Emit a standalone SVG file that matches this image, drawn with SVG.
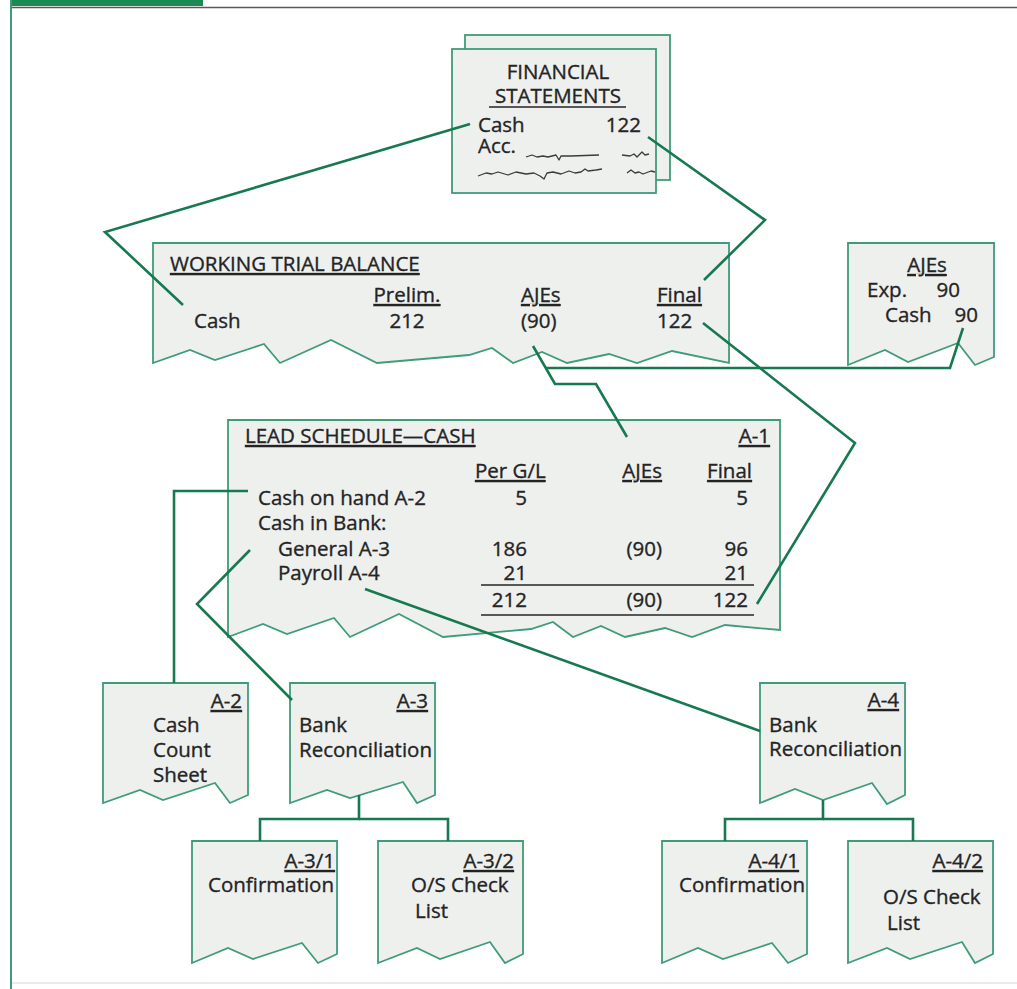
<svg xmlns="http://www.w3.org/2000/svg" width="1017" height="989" viewBox="0 0 1017 989">
<style>
.bg{fill:#ffffff}
.box{fill:#eef0ee;stroke:#3f9c79;stroke-width:1.8;stroke-linejoin:miter}
.conn{fill:none;stroke:#17794f;stroke-width:2.6;stroke-linejoin:miter}
.sq{fill:none;stroke:#3a3a3a;stroke-width:1.3;stroke-linejoin:round}
.t{font-family:"Open Sans","Noto Sans",sans-serif;font-size:20.5px;font-weight:500;fill:#242424;stroke:#242424;stroke-width:0.35}
.u{text-decoration:underline}
.r{text-anchor:end}
.m{text-anchor:middle}
.rule{stroke:#242424;stroke-width:1.4}
</style>
<rect class="bg" x="0" y="0" width="1017" height="989"/>
<g id="frame">
<line x1="12" y1="7.5" x2="1017" y2="7.5" stroke="#5e5656" stroke-width="1.6"/>
<rect x="10" y="0" width="193" height="6" fill="#1d8a56"/>
<line x1="11" y1="0" x2="11" y2="989" stroke="#3f9c79" stroke-width="2"/>
<line x1="12" y1="983" x2="1017" y2="983" stroke="#e2e4e3" stroke-width="1.5"/>
</g>

<g id="financial-statements">
<rect class="box" x="465" y="35" width="205" height="145"/>
<rect class="box" x="452" y="49" width="204" height="144"/>
<text class="t m" x="558" y="79">FINANCIAL</text>
<text class="t m" x="558" y="103">STATEMENTS</text>
<line class="rule" x1="489" y1="107" x2="626" y2="107"/>
<text class="t" x="478" y="132">Cash</text>
<text class="t r" x="641" y="132">122</text>
<text class="t" x="478" y="153">Acc.</text>
<path class="sq" d="M526,157 l6,-2 l5,2 l6,-1 l5,1 l8,-2 l3,5 l2,-4 l10,0 l28,-1"/>
<path class="sq" d="M622,155 l8,1 l4,-2 l3,3 l5,-5 l3,3 l4,-1"/>
<path class="sq" d="M478,176 l8,-3 l6,1 l6,-2 l10,3 l8,-3 l10,2 l8,-1 l6,3 l4,3 l3,-6 l6,-1 l8,2 l8,-3 l6,2 l6,-1 l4,-3 l3,2 l8,-1 l6,-1"/>
<path class="sq" d="M627,173 l4,-3 l4,3 l4,-1 l4,2 l8,-3 l4,1"/>
</g>

<g id="working-trial-balance">
<path class="box" d="M153,243 H729 V363 L672,351 L637,363 L609,354 L567,363 L542,352 L513,363 L492,348 L469,355 L377,363 L331,340 L280,363 L264,344 L215,360 L190,350 L153,363 Z"/>
<text class="t u" x="170" y="271">WORKING TRIAL BALANCE</text>
<text class="t u m" x="407" y="302">Prelim.</text>
<text class="t u" x="521" y="302">AJEs</text>
<text class="t u" x="657" y="302">Final</text>
<text class="t" x="194" y="328">Cash</text>
<text class="t m" x="407" y="328">212</text>
<text class="t" x="521" y="328">(90)</text>
<text class="t" x="657" y="328">122</text>
</g>

<g id="ajes">
<path class="box" d="M848,243 H994 V357 L975,365 L958,343 L908,362 L885,350 L848,365 Z"/>
<text class="t u m" x="927" y="272">AJEs</text>
<text class="t" x="867" y="297">Exp.</text>
<text class="t r" x="960" y="297">90</text>
<text class="t" x="885" y="322">Cash</text>
<text class="t r" x="978" y="322">90</text>
</g>

<g id="lead-schedule">
<path class="box" d="M228,420 H780 V630 L725,625 L692,637 L665,628 L625,637 L601,626 L573,637 L553,622 L531,629 L443,637 L399,614 L350,637 L334,618 L287,634 L263,624 L228,637 Z"/>
<text class="t u" x="245" y="443">LEAD SCHEDULE—CASH</text>
<text class="t u r" x="770" y="443">A-1</text>
<text class="t u" x="475" y="478">Per G/L</text>
<text class="t u r" x="662" y="478">AJEs</text>
<text class="t u r" x="752" y="478">Final</text>
<text class="t" x="258" y="505">Cash on hand A-2</text>
<text class="t r" x="527" y="505">5</text>
<text class="t r" x="748" y="505">5</text>
<text class="t" x="258" y="530">Cash in Bank:</text>
<text class="t" x="278" y="556">General A-3</text>
<text class="t r" x="527" y="556">186</text>
<text class="t r" x="662" y="556">(90)</text>
<text class="t r" x="748" y="556">96</text>
<text class="t" x="278" y="580">Payroll A-4</text>
<text class="t r" x="527" y="580">21</text>
<text class="t r" x="748" y="580">21</text>
<line class="rule" x1="481" y1="585" x2="754" y2="585"/>
<text class="t r" x="527" y="607">212</text>
<text class="t r" x="662" y="607">(90)</text>
<text class="t r" x="748" y="607">122</text>
<line class="rule" x1="481" y1="615" x2="754" y2="615"/>
</g>

<g id="a-2">
<path class="box" d="M103,683 H248 V795 L230,803 L215,783 L163,800 L140,790 L103,803 Z"/>
<text class="t u r" x="242" y="708">A-2</text>
<text class="t" x="153" y="732">Cash</text>
<text class="t" x="153" y="757">Count</text>
<text class="t" x="153" y="782">Sheet</text>
</g>

<g id="a-3">
<path class="box" d="M290,683 H435 V795 L417,803 L403,782 L350,798 L327,790 L290,803 Z"/>
<text class="t u r" x="428" y="708">A-3</text>
<text class="t" x="299" y="732">Bank</text>
<text class="t" x="299" y="757">Reconciliation</text>
</g>

<g id="a-4">
<path class="box" d="M760,683 H905 V795 L887,804 L872,783 L823,800 L795,789 L760,803 Z"/>
<text class="t u r" x="899" y="707">A-4</text>
<text class="t" x="769" y="732">Bank</text>
<text class="t" x="769" y="756">Reconciliation</text>
</g>

<g id="a-3-1">
<path class="box" d="M192,841 H337 V954 L318,963 L302,943 L253,959 L228,948 L192,963 Z"/>
<text class="t u r" x="335" y="868">A-3/1</text>
<text class="t" x="208" y="892">Confirmation</text>
</g>

<g id="a-3-2">
<path class="box" d="M378,841 H523 V954 L505,963 L490,942 L440,959 L417,948 L378,963 Z"/>
<text class="t u r" x="514" y="868">A-3/2</text>
<text class="t" x="411" y="892">O/S Check</text>
<text class="t" x="415" y="918">List</text>
</g>

<g id="a-4-1">
<path class="box" d="M662,841 H807 V954 L788,963 L772,943 L723,959 L698,948 L662,963 Z"/>
<text class="t u r" x="799" y="868">A-4/1</text>
<text class="t" x="679" y="892">Confirmation</text>
</g>

<g id="a-4-2">
<path class="box" d="M848,841 H993 V954 L975,963 L962,942 L910,959 L887,948 L848,963 Z"/>
<text class="t u r" x="983" y="868">A-4/2</text>
<text class="t" x="883" y="904">O/S Check</text>
<text class="t" x="887" y="930">List</text>
</g>

<g id="connectors">
<polyline class="conn" points="470,124 105,232 183,305"/>
<polyline class="conn" points="648,137 765,220 704,280"/>
<polyline class="conn" points="703,323 855,443 757,604"/>
<polyline class="conn" points="533,346 555,384 596,384 627,437"/>
<polyline class="conn" points="546,368 950,368 963,328"/>
<polyline class="conn" points="248,491 174,491 174,683"/>
<polyline class="conn" points="250,550 197,604 292,700"/>
<polyline class="conn" points="365,589 760,731"/>
<polyline class="conn" points="359,795 359,819 260,819 260,841"/>
<polyline class="conn" points="359,819 448,819 448,841"/>
<polyline class="conn" points="823,800 823,819 725,819 725,841"/>
<polyline class="conn" points="823,819 913,819 913,841"/>
</g>
</svg>
